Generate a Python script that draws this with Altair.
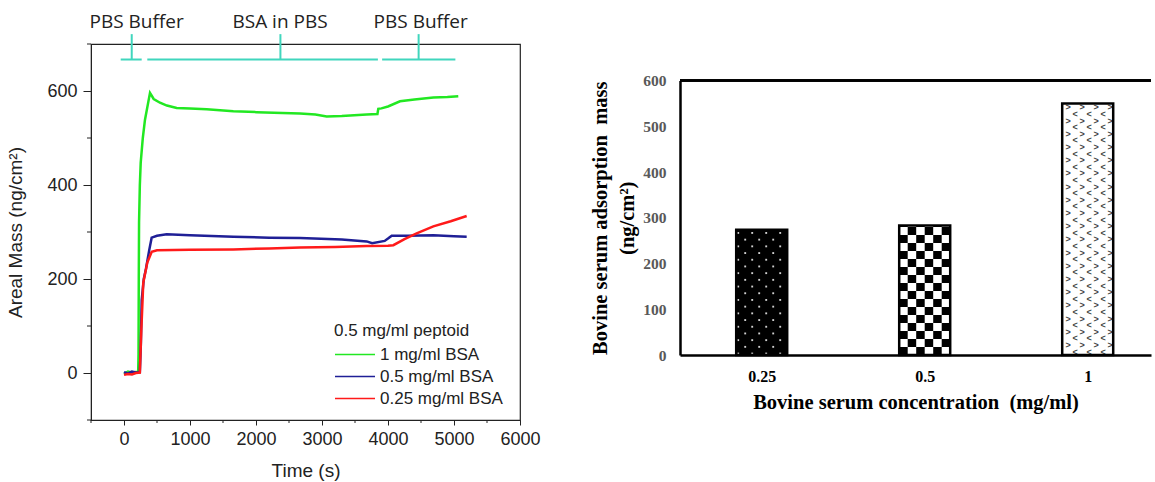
import altair as alt
import pandas as pd

# ---------------- Left panel data ----------------
series_names = ["1 mg/ml BSA", "0.5 mg/ml BSA", "0.25 mg/ml BSA"]
series_colors = ["#22e822", "#1f1f96", "#ff1a1a"]

green_t = [0, 60, 120, 180, 215, 220, 224, 228, 240, 253, 285, 318, 394, 450, 545, 650, 798,
           1000, 1253, 1657, 2010, 2400, 2667, 2900, 3071, 3300, 3677, 3840, 3853, 3900, 4000,
           4182, 4400, 4687, 4900, 5065]
green_y = [-2, 3, 1, 2, 2, 40, 200, 320, 400, 447, 500, 539, 596, 583, 575, 569, 564,
           563, 561, 557, 555, 553, 552, 550, 546, 547, 550, 551, 562, 563, 567,
           578, 582, 586, 587, 589]

blue_t = [0, 60, 120, 180, 240, 255, 268, 300, 333, 383, 419, 500, 646, 1000, 1657, 2200,
          2667, 3300, 3677, 3760, 3950, 4000, 4056, 4300, 4687, 5000, 5192]
blue_y = [2, -1, 3, 1, 2, 60, 155, 200, 222, 262, 288, 292, 295, 293, 290, 288,
          287, 284, 280, 276, 281, 286, 292, 292, 293, 291, 290]

red_t = [0, 60, 120, 180, 240, 262, 292, 353, 420, 500, 1000, 1657, 2200, 2667, 3200, 3677,
         4000, 4081, 4250, 4434, 4687, 4950, 5192]
red_y = [-4, -2, -3, 0, 1, 90, 192, 235, 258, 261, 262, 263, 265, 267, 268, 270,
         271, 272, 285, 297, 312, 323, 334]

phase_labels = ["PBS Buffer", "BSA in PBS", "PBS Buffer"]
phase_label_t = [191, 2364, 4495]
phase_start = [-50, 353, 3911]
phase_end = [268, 3847, 5021]
phase_tick = [117, 2370, 4464]
bracket_level = 667
tick_top = 721
label_level = 746

x_major = [0, 1000, 2000, 3000, 4000, 5000, 6000]
x_minor = [-500, 500, 1500, 2500, 3500, 4500, 5500]
y_major = [0, 200, 400, 600]
y_minor = [-100, 100, 300, 500, 700]

# ---------------- Right panel data ----------------
conc_labels = ["0.25", "0.5", "1"]
adsorbed_mass = [274, 283, 550]
y_ticks_right = [0, 100, 200, 300, 400, 500, 600]

# ---------------- Left panel ----------------
LW, LH = 429, 376
sans = "Liberation Sans"
ink = "#222222"
teal = "#40d6bd"

left_df = pd.concat([
    pd.DataFrame({"t": green_t, "mass": green_y, "series": series_names[0]}),
    pd.DataFrame({"t": blue_t, "mass": blue_y, "series": series_names[1]}),
    pd.DataFrame({"t": red_t, "mass": red_y, "series": series_names[2]}),
], ignore_index=True)

xs = alt.Scale(domain=[-500, 6000], nice=False, zero=False)
ys = alt.Scale(domain=[-100, 700], nice=False, zero=False)

lines = alt.Chart(left_df).mark_line(strokeWidth=2.5).encode(
    x=alt.X("t:Q", scale=xs, axis=alt.Axis(
        values=x_major, format="d", title="Time (s)", grid=False, tickSize=5,
        tickColor=ink, domainColor=ink, labelFont=sans, labelFontSize=18, labelColor=ink,
        labelPadding=5, labelOverlap=False, labelFlush=False, titleFont=sans, titleFontSize=19,
        titleFontWeight="normal", titleColor=ink, titlePadding=13)),
    y=alt.Y("mass:Q", scale=ys, axis=alt.Axis(
        values=y_major, format="d", title="Areal Mass (ng/cm²)", grid=False, tickSize=8,
        tickColor=ink, domainColor=ink, labelFont=sans, labelFontSize=18, labelColor=ink,
        labelPadding=6, labelOverlap=False, labelFlush=False, titleFont=sans, titleFontSize=19,
        titleFontWeight="normal", titleColor=ink, titlePadding=21)),
    color=alt.Color("series:N", scale=alt.Scale(domain=series_names, range=series_colors),
                    legend=alt.Legend(
                        orient="none", legendX=243, legendY=279, title="0.5 mg/ml peptoid",
                        titleFont=sans, titleFontSize=17, titleFontWeight="normal", titleColor=ink,
                        labelFont=sans, labelFontSize=17, labelColor=ink, symbolType="stroke",
                        symbolSize=1600, symbolStrokeWidth=1.6, labelOffset=4, rowPadding=4,
                        clipHeight=17, titlePadding=6, padding=0)),
)

ymin = alt.Chart(pd.DataFrame({"mass": y_minor})).mark_rule(color=ink, strokeWidth=1).encode(
    y=alt.Y("mass:Q", scale=ys), x=alt.value(0), x2=alt.value(-4))
xmin = alt.Chart(pd.DataFrame({"t": x_minor})).mark_rule(color=ink, strokeWidth=1).encode(
    x=alt.X("t:Q", scale=xs), y=alt.value(LH), y2=alt.value(LH + 3))

br_df = pd.DataFrame({"start": phase_start, "end": phase_end, "tick": phase_tick,
                      "lab_t": phase_label_t, "label": phase_labels,
                      "lvl": bracket_level, "top": tick_top, "lab_y": label_level})
hseg = alt.Chart(br_df).mark_rule(color=teal, strokeWidth=2).encode(
    x=alt.X("start:Q", scale=xs), x2="end:Q",
    y=alt.Y("lvl:Q", scale=ys))
vseg = alt.Chart(br_df).mark_rule(color=teal, strokeWidth=2).encode(
    x=alt.X("tick:Q", scale=xs),
    y=alt.Y("lvl:Q", scale=ys), y2="top:Q")
labs = alt.Chart(br_df).mark_text(font="Open Sans", fontSize=19, color=ink, baseline="middle").encode(
    x=alt.X("lab_t:Q", scale=xs),
    y=alt.Y("lab_y:Q", scale=ys), text="label:N")

left = alt.layer(lines, ymin, xmin, hseg, vseg, labs).properties(
    width=LW, height=LH, view={"stroke": ink, "strokeWidth": 1.2})

# ---------------- Right panel ----------------
RW, RH = 471, 376
serif = "Liberation Serif"
step_px = 163.0
ux = 1.0 / step_px              # one pixel in x data units
y_bottom_px, y_top_px = 311.0, 36.5
uy = 600.0 / (y_bottom_px - y_top_px)  # one pixel in y data units
hw = 25.5 * ux

left_off = 81.7 * ux
rs_x = alt.Scale(domain=[-left_off, (RW - 81.7) * ux], nice=False, zero=False)
rs_y = alt.Scale(domain=[0, 600], range=[y_bottom_px, y_top_px], nice=False, zero=False)

bars_df = pd.DataFrame({"conc": conc_labels, "pos": list(range(len(conc_labels))),
                        "val": adsorbed_mass})
bars_df["x1"] = bars_df["pos"] - hw
bars_df["x2"] = bars_df["pos"] + hw
bars_df["y0"] = 0

label_expr = f"{conc_labels}[datum.value]"

bar_fill = alt.Chart(bars_df).mark_rect().encode(
    x=alt.X("x1:Q", scale=rs_x, axis=alt.Axis(
        values=list(range(len(conc_labels))), labelExpr=label_expr,
        title="Bovine serum concentration\u00a0 (mg/ml)",
        grid=False, ticks=False, domainColor="black", domainWidth=2.5, offset=-(RH - y_bottom_px),
        labelFont=serif, labelFontSize=16, labelFontWeight="bold", labelColor="black", labelPadding=13,
        labelOverlap=False, labelFlush=False,
        titleFont=serif, titleFontSize=20.5, titleFontWeight="bold", titleColor="black", titlePadding=8)),
    x2="x2:Q",
    y=alt.Y("val:Q", scale=rs_y, axis=alt.Axis(
        values=y_ticks_right, title=["Bovine serum adsorption\u00a0 mass", "(ng/cm²)"], grid=False,
        ticks=False, domainColor="black", domainWidth=2.5, labelFont=serif, labelFontSize=15.5,
        labelFontWeight="bold", labelColor="#595959", labelPadding=14, labelOverlap=False,
        labelFlush=False, titleFont=serif, titleFontSize=20.5, titleFontWeight="bold",
        titleColor="black", titlePadding=5, titleLineHeight=27)),
    y2="y0:Q",
    fill=alt.Fill("conc:N", scale=alt.Scale(domain=conc_labels, range=["black", "white", "white"]),
                  legend=None),
)

# pattern for bar 0: staggered light dots on black
dots = []
v0 = adsorbed_mass[0]
r = 0
while (3.3 + r * 6.7) * uy < v0:
    yv = v0 - (3.3 + r * 6.7) * uy
    offs = [2, 16, 30, 44] if r % 2 == 0 else [9, 23, 37]
    for o in offs:
        dots.append({"x1": 0 - hw + o * ux, "val": yv})
    r += 1
dots_df = pd.DataFrame(dots)
dot_layer = alt.Chart(dots_df).mark_square(size=3.5, color="#d0d0d0", opacity=1).encode(
    x=alt.X("x1:Q", scale=rs_x), y=alt.Y("val:Q", scale=rs_y))

# pattern for bar 1: checkerboard
checks = []
v1 = adsorbed_mass[1]
ncol = 6
cw = 2 * hw / ncol
rh = 8 * uy
r = 0
while r * rh < v1:
    for c in range(ncol):
        if (r + c) % 2 == 0:
            checks.append({"x1": 1 - hw + c * cw, "x2": 1 - hw + (c + 1) * cw,
                           "val": r * rh, "y0": min((r + 1) * rh, v1)})
    r += 1
checks_df = pd.DataFrame(checks)
check_layer = alt.Chart(checks_df).mark_rect(color="black").encode(
    x=alt.X("x1:Q", scale=rs_x), x2="x2:Q",
    y=alt.Y("val:Q", scale=rs_y), y2="y0:Q")

# pattern for bar 2: small chevrons
chev = []
v2 = adsorbed_mass[2]
r = 0
while (4 + r * 6.6) * uy < v2 - 1:
    yv = v2 - (4 + r * 6.6) * uy
    if r % 2 == 0:
        offs, ch = [6, 20, 34, 48], ">"
    else:
        offs, ch = [13, 27, 41], "<"
    for o in offs:
        chev.append({"x1": 2 - hw + o * ux, "val": yv, "c": ch})
    r += 1
chev_df = pd.DataFrame(chev)
chev_layer = alt.Chart(chev_df).mark_text(font=sans, fontSize=9, fontWeight="bold", color="#444444",
                                          baseline="middle").encode(
    x=alt.X("x1:Q", scale=rs_x), y=alt.Y("val:Q", scale=rs_y), text="c:N")

bar_outline = alt.Chart(bars_df).mark_rect(fillOpacity=0, stroke="black", strokeWidth=2.5).encode(
    x=alt.X("x1:Q", scale=rs_x), x2="x2:Q",
    y=alt.Y("val:Q", scale=rs_y), y2="y0:Q")

top_frame = alt.Chart(bars_df).mark_rule(color="black", strokeWidth=2.5).encode(
    y=alt.datum(600, scale=rs_y))

right = alt.layer(bar_fill, dot_layer, check_layer, chev_layer, bar_outline, top_frame).properties(
    width=RW, height=RH)

chart = alt.hconcat(left, right, spacing=160, bounds="flush").properties(
    padding={"left": 6, "top": 12, "right": 0, "bottom": 0},
    background="white",
).configure_view(stroke="transparent")

chart.save("out.html", embed_options={"renderer": "svg", "actions": False})
